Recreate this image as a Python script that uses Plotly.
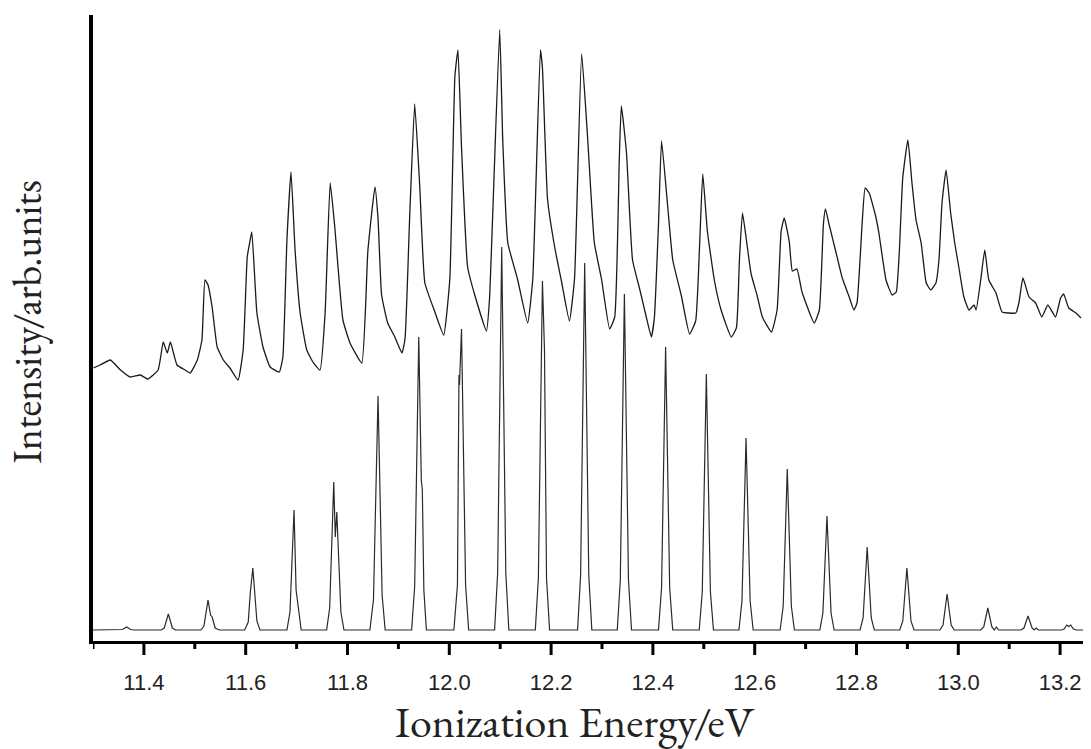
import plotly.graph_objects as go

# ---------------- data (energy in eV, intensity in arbitrary units) ----------------
# Experimental spectrum (upper, traced vertices)
exp_energy = [
    11.301, 11.314, 11.334, 11.354, 11.373, 11.393, 11.408, 11.428, 11.438, 11.446,
    11.452, 11.465, 11.481, 11.491, 11.505, 11.514, 11.520, 11.526, 11.534, 11.544,
    11.556, 11.569, 11.585, 11.595, 11.603, 11.607, 11.612, 11.622, 11.634, 11.648,
    11.666, 11.673, 11.681, 11.689, 11.697, 11.707, 11.720, 11.732, 11.746, 11.756,
    11.766, 11.775, 11.791, 11.805, 11.828, 11.840, 11.854, 11.860, 11.867, 11.879,
    11.893, 11.907, 11.913, 11.922, 11.932, 11.942, 11.952, 11.971, 11.989, 12.001,
    12.011, 12.017, 12.024, 12.036, 12.050, 12.073, 12.079, 12.099, 12.105, 12.115,
    12.134, 12.154, 12.164, 12.179, 12.183, 12.193, 12.207, 12.221, 12.236, 12.246,
    12.260, 12.272, 12.285, 12.299, 12.315, 12.325, 12.334, 12.338, 12.348, 12.360,
    12.374, 12.387, 12.397, 12.403, 12.411, 12.417, 12.429, 12.439, 12.456, 12.472,
    12.484, 12.492, 12.498, 12.507, 12.521, 12.534, 12.554, 12.564, 12.570, 12.576,
    12.585, 12.593, 12.605, 12.615, 12.633, 12.644, 12.652, 12.658, 12.668, 12.674,
    12.683, 12.693, 12.717, 12.727, 12.735, 12.739, 12.746, 12.760, 12.772, 12.785,
    12.795, 12.801, 12.811, 12.817, 12.825, 12.838, 12.844, 12.858, 12.870, 12.878,
    12.884, 12.891, 12.901, 12.909, 12.917, 12.927, 12.937, 12.946, 12.956, 12.962,
    12.968, 12.976, 12.985, 12.993, 13.001, 13.011, 13.021, 13.031, 13.035, 13.044,
    13.052, 13.060, 13.074, 13.086, 13.099, 13.113, 13.119, 13.127, 13.139, 13.152,
    13.164, 13.176, 13.191, 13.201, 13.207, 13.217, 13.231, 13.241,
]
exp_intensity = [
    262, 265, 270, 260, 253, 255, 251, 260, 288, 277,
    288, 265, 260, 257, 270, 290, 350, 345, 323, 283,
    270, 262, 250, 280, 373, 385, 398, 317, 283, 263,
    258, 273, 390, 458, 380, 317, 280, 268, 260, 317,
    447, 403, 310, 287, 267, 379, 443, 411, 335, 307,
    293, 277, 291, 411, 526, 443, 347, 319, 295, 351,
    554, 580, 483, 363, 335, 299, 331, 600, 490, 387,
    351, 307, 351, 580, 562, 431, 383, 347, 309, 351,
    576, 490, 387, 351, 301, 313, 471, 524, 478, 370,
    341, 313, 293, 313, 406, 489, 424, 370, 334, 296,
    309, 388, 456, 399, 349, 320, 293, 302, 370, 417,
    385, 356, 334, 313, 298, 320, 399, 412, 388, 359,
    361, 338, 307, 320, 406, 421, 406, 377, 352, 334,
    320, 327, 406, 442, 437, 413, 397, 350, 335, 338,
    377, 453, 490, 447, 410, 387, 347, 340, 347, 370,
    427, 460, 417, 387, 363, 333, 320, 325, 320, 350,
    380, 350, 337, 318, 317, 317, 327, 352, 333, 327,
    313, 325, 313, 332, 336, 322, 317, 312,
]

# Simulated spectrum (lower, traced vertices)
sim_energy = [
    11.300,
    11.352, 11.358, 11.366, 11.374, 11.380,
    11.434, 11.440, 11.448, 11.456, 11.462,
    11.512, 11.518, 11.526, 11.531, 11.534, 11.540, 11.548,
    11.598, 11.605, 11.609, 11.614, 11.622, 11.628,
    11.681, 11.687, 11.695, 11.699, 11.702, 11.709,
    11.759, 11.765, 11.773, 11.776, 11.779, 11.787, 11.793,
    11.844, 11.851, 11.856, 11.860, 11.868, 11.874,
    11.926, 11.932, 11.940, 11.945, 11.947, 11.950, 11.955,
    12.009, 12.016, 12.019, 12.020, 12.024, 12.032, 12.038,
    12.089, 12.095, 12.103, 12.111, 12.117,
    12.169, 12.175, 12.183, 12.186, 12.187, 12.191, 12.197,
    12.252, 12.258, 12.266, 12.274, 12.280,
    12.330, 12.336, 12.344, 12.352, 12.358,
    12.411, 12.417, 12.425, 12.433, 12.439,
    12.491, 12.497, 12.505, 12.513, 12.519,
    12.569, 12.575, 12.583, 12.591, 12.597,
    12.650, 12.656, 12.664, 12.672, 12.678,
    12.728, 12.734, 12.742, 12.750, 12.756,
    12.807, 12.813, 12.821, 12.829, 12.835,
    12.885, 12.891, 12.899, 12.907, 12.913,
    12.964, 12.970, 12.978, 12.986, 12.992,
    13.044, 13.050, 13.058, 13.066, 13.071, 13.075, 13.079,
    13.123, 13.129, 13.137, 13.145, 13.149, 13.153, 13.157,
    13.203, 13.208, 13.213, 13.217, 13.221, 13.226, 13.232,
    13.245,
]
sim_intensity = [
    0,
    0, 0.5, 3, 0.5, 0,
    0, 2, 16, 2, 0,
    0, 4, 30, 15, 13, 2, 0,
    0, 8, 37, 62, 9, 0,
    0, 18, 120, 40, 28, 0,
    0, 22, 148, 93, 118, 18, 0,
    0, 30, 128, 234, 35, 0,
    0, 44, 293, 150, 140, 40, 0,
    0, 45, 255, 245, 301, 45, 0,
    0, 57, 383, 57, 0,
    0, 52, 349, 285, 280, 52, 0,
    0, 55, 367, 55, 0,
    0, 50, 336, 50, 0,
    0, 42, 283, 42, 0,
    0, 38, 256, 38, 0,
    0, 29, 192, 29, 0,
    0, 24, 161, 24, 0,
    0, 17, 114, 17, 0,
    0, 12, 83, 12, 0,
    0, 9, 62, 9, 0,
    0, 5, 36, 5, 0,
    0, 3, 22, 3, 0, 3, 0,
    0, 2, 14, 2, 0, 2, 0,
    0, 1, 5, 3.5, 5, 1, 0,
    0,
]

x_tick_values = [11.4, 11.6, 11.8, 12.0, 12.2, 12.4, 12.6, 12.8, 13.0, 13.2]
x_tick_labels = ["11.4", "11.6", "11.8", "12.0", "12.2", "12.4", "12.6", "12.8", "13.0", "13.2"]
x_minor_values = [11.3, 11.5, 11.7, 11.9, 12.1, 12.3, 12.5, 12.7, 12.9, 13.1]

# ---------------- figure ----------------
fig = go.Figure()
fig.add_trace(go.Scatter(x=exp_energy, y=exp_intensity, mode="lines",
                         line=dict(color="#1a1a1a", width=1.3, shape="spline", smoothing=0.4),
                         showlegend=False))
fig.add_trace(go.Scatter(x=sim_energy, y=sim_intensity, mode="lines",
                         line=dict(color="#2a2a2a", width=1.2), showlegend=False))

# tick marks drawn as pixel-sized shapes anchored at the tick values
MAJOR_LEN, MINOR_LEN = 13, 7
shapes = []
for v in x_tick_values:
    shapes.append(dict(type="line", xref="x", yref="paper", ysizemode="pixel", yanchor=0,
                       x0=v, x1=v, y0=-1, y1=-1 - MAJOR_LEN,
                       line=dict(color="black", width=3)))
for v in x_minor_values:
    shapes.append(dict(type="line", xref="x", yref="paper", ysizemode="pixel", yanchor=0,
                       x0=v, x1=v, y0=-1, y1=-1 - MINOR_LEN,
                       line=dict(color="black", width=3)))

serif = "EB Garamond, Garamond, Liberation Serif, Times New Roman, serif"

fig.update_layout(
    width=1091, height=749,
    margin=dict(l=93, r=8, t=15, b=108),
    paper_bgcolor="white", plot_bgcolor="white",
    shapes=shapes,
    xaxis=dict(
        range=[11.3, 13.245], showgrid=False, zeroline=False,
        showline=True, linecolor="black", linewidth=3,
        tickmode="array", tickvals=x_tick_values, ticktext=x_tick_labels,
        ticks="outside", ticklen=14, tickwidth=1, tickcolor="rgba(0,0,0,0)",
        ticklabelstandoff=6,
        tickfont=dict(family="Liberation Sans, Arial, sans-serif", size=22, color="#222"),
    ),
    yaxis=dict(
        range=[-11, 615], showgrid=False, zeroline=False,
        showline=True, linecolor="black", linewidth=4,
        showticklabels=False, ticks="",
    ),
    annotations=[
        dict(text="Ionization Energy/eV", xref="paper", yref="paper",
             x=0.487, y=0, xanchor="center", yanchor="middle", yshift=-80,
             showarrow=False,
             font=dict(family=serif, size=44, color="#222")),
        dict(text="Intensity/arb.units", xref="paper", yref="paper",
             x=0, y=0.51, xanchor="center", yanchor="middle", xshift=-66,
             textangle=-90, showarrow=False,
             font=dict(family=serif, size=40, color="#222")),
    ],
)

fig.write_html("out.html")
